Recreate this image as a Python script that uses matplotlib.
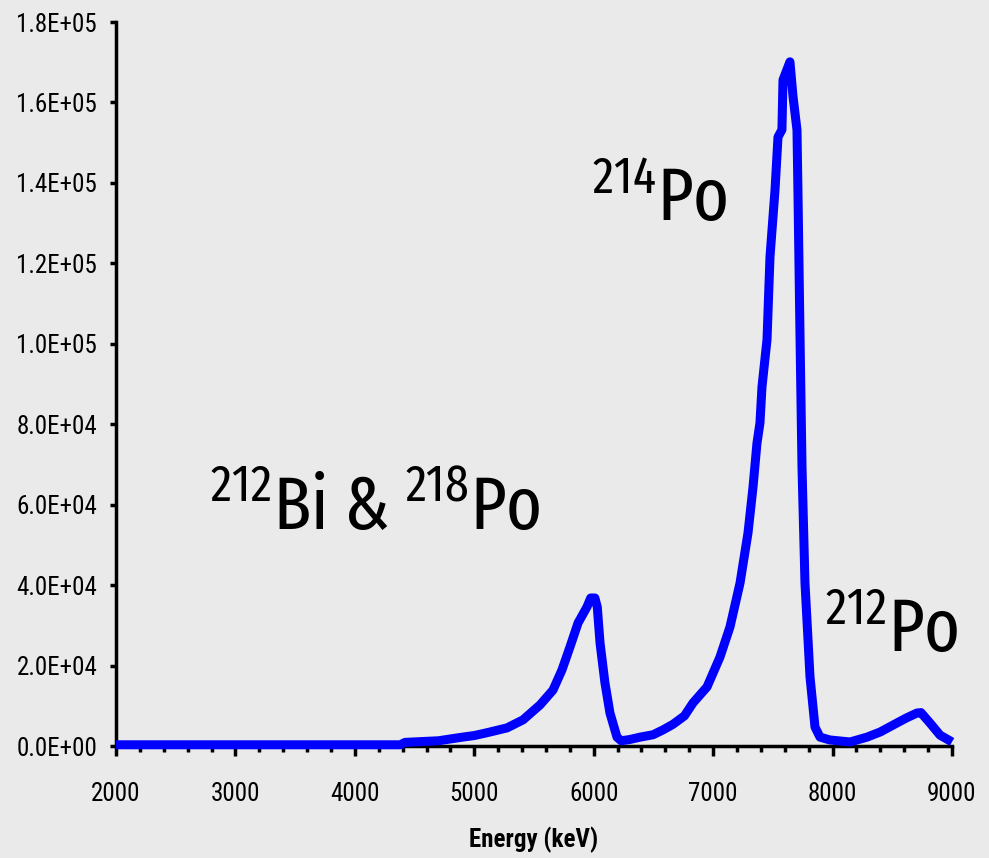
import matplotlib
matplotlib.use("Agg")
import matplotlib.pyplot as plt
from matplotlib.ticker import MultipleLocator, FuncFormatter
from matplotlib import font_manager

energy_kev = [2000, 2500, 3000, 3500, 4000, 4380, 4420, 4700, 4900, 5000, 5106, 5274,
              5408, 5550, 5659, 5734, 5801, 5869, 5944, 5975, 6010, 6030, 6053, 6094,
              6136, 6195, 6230, 6300, 6388, 6497, 6580, 6664, 6760, 6831, 6949, 7057,
              7141, 7225, 7292, 7334, 7367, 7392, 7409, 7451, 7476, 7518, 7543, 7576,
              7585, 7643, 7669, 7702, 7710, 7727, 7744, 7769, 7811, 7853, 7895, 7978,
              8146, 8288, 8400, 8506, 8620, 8707, 8740, 8816, 8900, 9000]
counts = [300, 300, 300, 300, 300, 300, 900, 1300, 2200, 2600, 3300, 4500,
          6500, 10200, 13900, 18900, 24600, 30600, 34600, 36800, 36800, 34500, 25600, 15700,
          8200, 2200, 1300, 1600, 2200, 2800, 4000, 5400, 7500, 10700, 14700, 22100,
          29600, 40500, 53000, 64400, 75300, 80300, 89300, 101000, 121600, 138200, 151400, 153200,
          165600, 170100, 161400, 153200, 138200, 102700, 69400, 40500, 17200, 4700, 2200, 1500,
          1000, 2200, 3500, 5200, 7000, 8200, 8300, 5700, 2700, 1000]

x_label = "Energy (keV)"
anno_texts = [r"$^{212}$Bi & $^{218}$Po", r"$^{214}$Po", r"$^{212}$Po"]
anno_x = [2787, 5986, 7937]
anno_y = [53700, 130500, 23400]

names = {f.name for f in font_manager.fontManager.ttflist}


def pick(cands, default):
    for c in cands:
        if c in names:
            return c
    return default


narrow = pick(["Roboto Condensed", "PT Sans Narrow", "Archivo Narrow"], "Liberation Sans")
anno_font = pick(["Fira Sans Extra Condensed", "Fira Sans Condensed", "Carlito"], "DejaVu Sans")

plt.rcParams["mathtext.fontset"] = "custom"
plt.rcParams["mathtext.rm"] = anno_font
plt.rcParams["mathtext.it"] = anno_font
plt.rcParams["mathtext.bf"] = anno_font

bg = "#EAEAEA"
fig = plt.figure(figsize=(9.89, 8.58), dpi=100, facecolor=bg)
ax = fig.add_axes([116/989, 1 - 746/858, (952-116)/989, (746-22)/858])
ax.set_facecolor(bg)

ax.plot(energy_kev, counts, color="#0000FF", lw=6.5, solid_joinstyle="round",
        solid_capstyle="butt", clip_on=False, zorder=3)

ax.set_xlim(2000, 9000)
ax.set_ylim(0, 180000)
ax.xaxis.set_major_locator(MultipleLocator(1000))
ax.xaxis.set_minor_locator(MultipleLocator(200))
ax.yaxis.set_major_locator(MultipleLocator(20000))
ax.yaxis.set_major_formatter(FuncFormatter(lambda v, p: "%.1E" % v))

for s in ("top", "right"):
    ax.spines[s].set_visible(False)
for s in ("left", "bottom"):
    ax.spines[s].set_linewidth(2.5)
    ax.spines[s].set_color("black")

ax.tick_params(axis="both", which="major", direction="out", width=2.5, color="black",
               labelsize=18)
ax.tick_params(axis="x", which="major", length=7, pad=19)
ax.tick_params(axis="y", which="major", length=4.5, pad=9)
ax.tick_params(axis="x", which="minor", length=4.5, width=2.5, direction="out")
for lab in ax.get_xticklabels() + ax.get_yticklabels():
    lab.set_fontfamily(narrow)

ax.set_xlabel(x_label, fontfamily=narrow, fontweight="bold", fontsize=18, labelpad=15)

for txt, xv, yv in zip(anno_texts, anno_x, anno_y):
    ax.text(xv, yv, txt, fontfamily=anno_font, fontsize=53.5, color="black",
            ha="left", va="baseline")

fig.savefig("out.png", dpi=100, facecolor=bg)
